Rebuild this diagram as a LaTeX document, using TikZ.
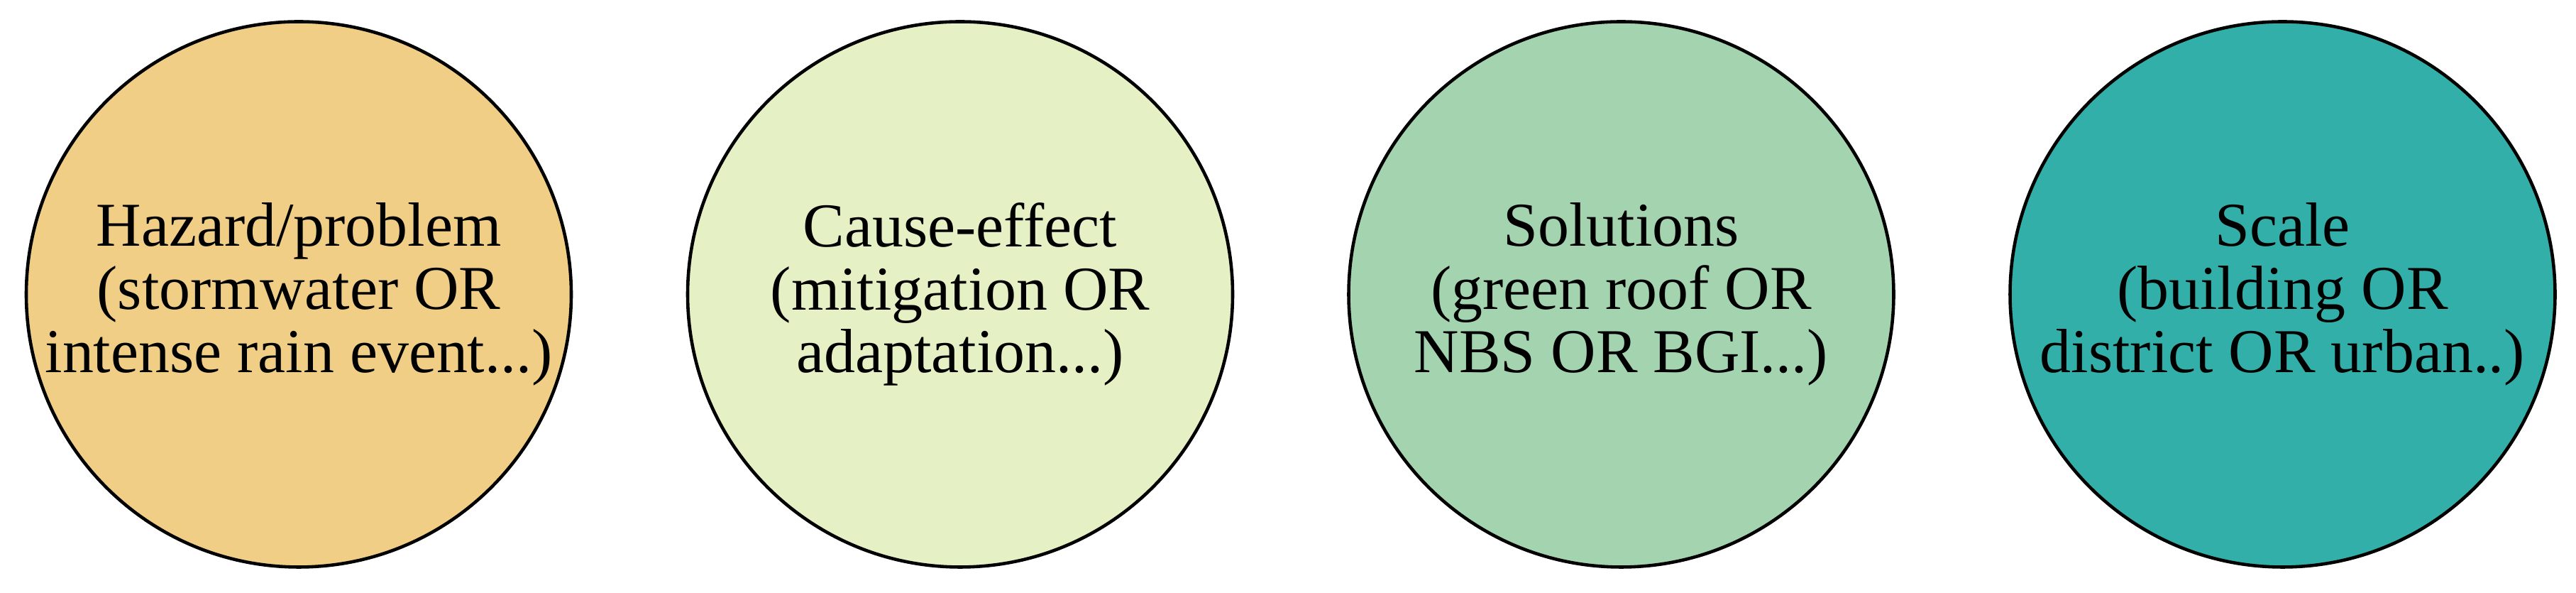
\documentclass[tikz,border=0pt]{standalone}
\usepackage{fontspec}
\setmainfont{Liberation Serif}
\definecolor{cA}{RGB}{240,206,134}
\definecolor{cB}{RGB}{229,240,196}
\definecolor{cC}{RGB}{163,212,175}
\definecolor{cD}{RGB}{51,175,169}
\tikzset{
  bubble/.style={draw=black, line width=1.3pt, circle, minimum size=7.68cm, inner sep=0pt},
  label text/.style={align=center, inner sep=0pt, font=\fontsize{25}{25.3}\selectfont}
}
\begin{document}
\begin{tikzpicture}
\useasboundingbox (0,0) rectangle (36.3,8.35);
\node[bubble, fill=cA] (c1) at (4.21,4.205) {};
\node[bubble, fill=cB] (c2) at (13.53,4.205) {};
\node[bubble, fill=cC] (c3) at (22.845,4.205) {};
\node[bubble, fill=cD] (c4) at (32.165,4.205) {};
\node[label text] (t1) at (c1) {Hazard/problem\\(stormwater OR\\intense rain event...)};
\node[label text] (t2) at (c2) {Cause-effect\\(mitigation OR\\adaptation...)};
\node[label text] (t3) at (c3) {Solutions\\(green roof OR\\NBS OR BGI...)};
\node[label text] (t4) at (c4) {Scale\\(building OR\\district OR urban..)};
\end{tikzpicture}
\end{document}
